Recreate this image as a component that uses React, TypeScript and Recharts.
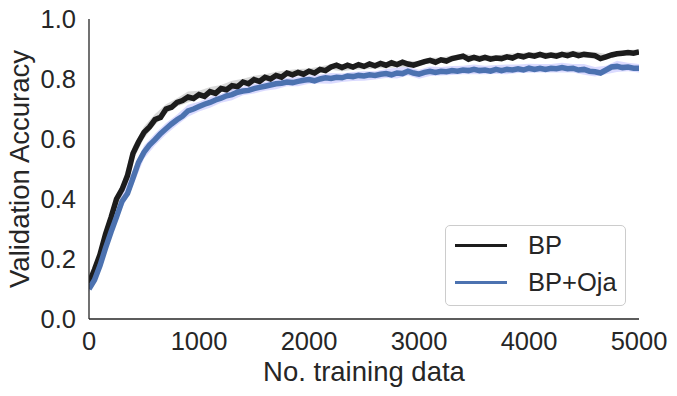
import { ComposedChart, Line, Area, XAxis, YAxis, Label } from "recharts";

// sampled every 50 training examples, 0..5000
const steps = Array.from({ length: 101 }, (_, i) => i * 50);

const bpAcc = [
  0.120, 0.165, 0.215, 0.282, 0.338, 0.400, 0.432, 0.478, 0.552, 0.590,
  0.622, 0.640, 0.665, 0.672, 0.700, 0.706, 0.722, 0.728, 0.740, 0.735,
  0.748, 0.742, 0.758, 0.752, 0.768, 0.764, 0.778, 0.774, 0.790, 0.784,
  0.798, 0.792, 0.806, 0.800, 0.812, 0.806, 0.820, 0.814, 0.822, 0.816,
  0.826, 0.820, 0.832, 0.828, 0.840, 0.846, 0.838, 0.846, 0.840, 0.848,
  0.842, 0.850, 0.844, 0.852, 0.846, 0.854, 0.848, 0.856, 0.850, 0.846,
  0.852, 0.858, 0.862, 0.856, 0.864, 0.860, 0.868, 0.872, 0.876, 0.866,
  0.872, 0.866, 0.872, 0.866, 0.870, 0.868, 0.874, 0.870, 0.878, 0.874,
  0.880, 0.876, 0.882, 0.876, 0.880, 0.876, 0.882, 0.878, 0.884, 0.878,
  0.882, 0.880, 0.878, 0.868, 0.874, 0.880, 0.884, 0.886, 0.888, 0.886,
  0.890,
];

const ojaAcc = [
  0.100, 0.130, 0.178, 0.236, 0.290, 0.340, 0.392, 0.418, 0.470, 0.522,
  0.556, 0.580, 0.598, 0.618, 0.634, 0.650, 0.664, 0.676, 0.694, 0.700,
  0.708, 0.716, 0.722, 0.730, 0.736, 0.744, 0.748, 0.756, 0.760, 0.762,
  0.768, 0.772, 0.776, 0.780, 0.784, 0.786, 0.790, 0.788, 0.792, 0.796,
  0.798, 0.794, 0.800, 0.804, 0.802, 0.806, 0.804, 0.810, 0.808, 0.812,
  0.810, 0.814, 0.812, 0.816, 0.818, 0.814, 0.820, 0.818, 0.826, 0.820,
  0.816, 0.822, 0.826, 0.822, 0.826, 0.824, 0.828, 0.826, 0.830, 0.828,
  0.832, 0.828, 0.830, 0.826, 0.832, 0.828, 0.832, 0.830, 0.834, 0.830,
  0.836, 0.832, 0.836, 0.832, 0.836, 0.834, 0.838, 0.834, 0.836, 0.830,
  0.832, 0.826, 0.824, 0.820, 0.830, 0.840, 0.842, 0.838, 0.840, 0.836,
  0.836,
];

// half-width of the shaded bands, every 100 examples
const bpSpread = [
  0.010, 0.014, 0.018, 0.020, 0.024, 0.020, 0.018, 0.016, 0.014, 0.018,
  0.013, 0.015, 0.012, 0.016, 0.011, 0.013, 0.010, 0.012, 0.009, 0.011,
  0.009, 0.010, 0.009, 0.012, 0.009, 0.010, 0.009, 0.010, 0.009, 0.011,
  0.008, 0.009, 0.008, 0.010, 0.009, 0.008, 0.009, 0.008, 0.010, 0.008,
  0.009, 0.008, 0.009, 0.008, 0.010, 0.009, 0.012, 0.009, 0.008, 0.009,
  0.008,
];

const ojaSpread = [
  0.010, 0.016, 0.020, 0.024, 0.026, 0.022, 0.020, 0.019, 0.018, 0.020,
  0.016, 0.018, 0.015, 0.019, 0.014, 0.016, 0.015, 0.018, 0.014, 0.016,
  0.014, 0.015, 0.018, 0.014, 0.015, 0.016, 0.014, 0.015, 0.018, 0.014,
  0.015, 0.016, 0.014, 0.015, 0.014, 0.016, 0.014, 0.015, 0.016, 0.014,
  0.015, 0.014, 0.014, 0.016, 0.014, 0.018, 0.016, 0.014, 0.019, 0.014,
  0.014,
];

const xTicks = [0, 1000, 2000, 3000, 4000, 5000];
const yTicks = [0, 0.2, 0.4, 0.6, 0.8, 1.0];

const FONT = "'Liberation Sans', Arial, sans-serif";
const TEXT = "#262626";
const AXIS = "#262626";

const bpLine = steps.map((s, i) => ({ x: s, y: bpAcc[i] }));
const ojaLine = steps.map((s, i) => ({ x: s, y: ojaAcc[i] }));
const bpBand = bpSpread.map((d, i) => ({ x: i * 100, r: [bpAcc[i * 2] - d, bpAcc[i * 2] + d] }));
const ojaBand = ojaSpread.map((d, i) => ({ x: i * 100, r: [ojaAcc[i * 2] - d, ojaAcc[i * 2] + d] }));

const legendItems = [
  { label: "BP", color: "#1c1c1c" },
  { label: "BP+Oja", color: "#4c72b0" },
];

export default function App() {
  return (
    <div style={{ position: "absolute", left: 0, top: 0, width: 677, height: 396, background: "#fff", fontFamily: FONT }}>
      <ComposedChart width={677} height={396} margin={{ top: 19, right: 38, bottom: 0, left: 0 }}>
        <XAxis
          type="number"
          dataKey="x"
          domain={[0, 5000]}
          ticks={xTicks}
          allowDataOverflow
          height={77}
          tickLine={false}
          tickSize={0}
          tickMargin={13}
          axisLine={{ stroke: AXIS, strokeWidth: 1.3 }}
          tick={{ fill: TEXT, fontSize: 25.5, fontFamily: FONT }}
        >
          <Label
            content={() => (
              <text x={364} y={381} textAnchor="middle" fill={TEXT} fontSize={27.5} fontFamily={FONT}>
                No. training data
              </text>
            )}
          />
        </XAxis>
        <YAxis
          type="number"
          domain={[0, 1]}
          ticks={yTicks}
          allowDataOverflow
          width={89}
          tickLine={false}
          tickSize={0}
          tickMargin={13}
          tickFormatter={(v: number) => v.toFixed(1)}
          axisLine={{ stroke: AXIS, strokeWidth: 1.3 }}
          tick={{ fill: TEXT, fontSize: 25.5, fontFamily: FONT }}
        >
          <Label
            content={() => (
              <text
                x={29}
                y={169}
                transform="rotate(-90, 29, 169)"
                textAnchor="middle"
                fill={TEXT}
                fontSize={27.5}
                fontFamily={FONT}
              >
                Validation Accuracy
              </text>
            )}
          />
        </YAxis>
        <Area data={bpBand} dataKey="r" type="linear" stroke="none" fill="#000" fillOpacity={0.15} isAnimationActive={false} />
        <Area data={ojaBand} dataKey="r" type="linear" stroke="none" fill="#0000ff" fillOpacity={0.14} isAnimationActive={false} />
        <Line data={bpLine} dataKey="y" type="linear" stroke="#1c1c1c" strokeWidth={5.5} dot={false} isAnimationActive={false} />
        <Line data={ojaLine} dataKey="y" type="linear" stroke="#4c72b0" strokeWidth={5.5} dot={false} isAnimationActive={false} />
      </ComposedChart>
      <div
        style={{
          position: "absolute",
          left: 445,
          top: 225,
          width: 179,
          height: 79,
          border: "1px solid #cccccc",
          borderRadius: 5,
          background: "rgba(255,255,255,0.8)",
        }}
      >
        {legendItems.map((item, i) => (
          <div
            key={item.label}
            style={{ position: "absolute", left: 9, top: 4 + i * 37, height: 30, display: "flex", alignItems: "center" }}
          >
            <span style={{ display: "inline-block", width: 52, height: 3, background: item.color }} />
            <span style={{ marginLeft: 21, fontSize: 25.5, lineHeight: "30px", color: TEXT }}>{item.label}</span>
          </div>
        ))}
      </div>
    </div>
  );
}
